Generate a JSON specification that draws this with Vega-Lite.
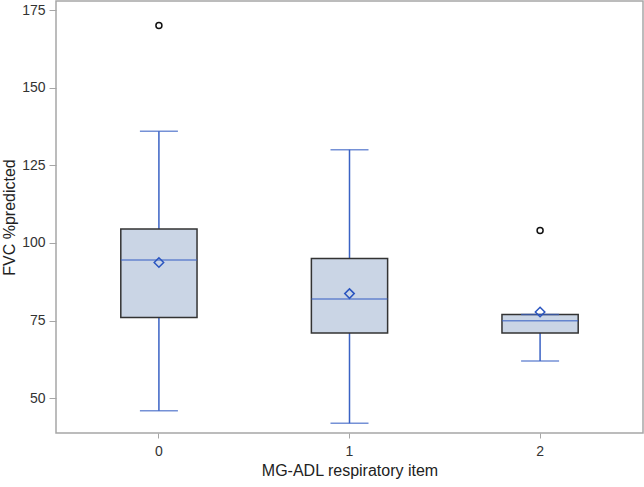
{
  "$schema": "https://vega.github.io/schema/vega-lite/v6.json",
  "width": 587,
  "height": 432,
  "autosize": {"type": "none"},
  "padding": {"left": 56, "top": 1, "right": 1, "bottom": 54},
  "background": "white",
  "config": {
    "view": {"stroke": "#A6A6A6", "strokeWidth": 1.5},
    "font": "Liberation Sans",
    "axis": {
      "domain": false,
      "grid": false,
      "labelFont": "Liberation Sans",
      "titleFont": "Liberation Sans",
      "labelColor": "#333333",
      "titleColor": "#222222",
      "labelFontSize": 14,
      "titleFontSize": 16,
      "titleFontWeight": "normal",
      "tickColor": "#A6A6A6"
    }
  },
  "datasets": {
    "boxes": [
      {"item": "0", "lo": 46, "q1": 76, "med": 94.5, "q3": 104.5, "hi": 136, "mean": 93.7},
      {"item": "1", "lo": 42, "q1": 71, "med": 82, "q3": 95, "hi": 130, "mean": 83.7},
      {"item": "2", "lo": 62, "q1": 71, "med": 75, "q3": 77, "hi": 77, "mean": 77.8}
    ],
    "outliers": [
      {"item": "0", "fvc": 170},
      {"item": "2", "fvc": 104}
    ]
  },
  "encoding": {
    "x": {
      "field": "item",
      "type": "ordinal",
      "scale": {"type": "band", "domain": ["0", "1", "2"], "paddingInner": 0.6, "paddingOuter": 0.34},
      "axis": {"title": "MG-ADL respiratory item", "labelAngle": 0, "tickSize": 5, "labelPadding": 6, "titlePadding": 4}
    }
  },
  "layer": [
    {
      "data": {"name": "boxes"},
      "mark": {"type": "rule", "color": "#3A62C4", "strokeWidth": 1.5},
      "encoding": {
        "y": {
          "field": "lo",
          "type": "quantitative",
          "scale": {"domain": [38.83, 177.9], "nice": false, "zero": false},
          "axis": {"title": "FVC %predicted", "values": [50, 75, 100, 125, 150, 175], "tickSize": 7, "labelPadding": 4, "titlePadding": 4}
        },
        "y2": {"field": "hi"}
      }
    },
    {
      "data": {"name": "boxes"},
      "mark": {"type": "bar", "fill": "#CAD5E5", "stroke": "#333333", "strokeWidth": 1.5},
      "encoding": {
        "y": {"field": "q1", "type": "quantitative"},
        "y2": {"field": "q3"}
      }
    },
    {
      "data": {"name": "boxes"},
      "mark": {"type": "tick", "color": "#3A62C4", "thickness": 1.5, "size": 76},
      "encoding": {"y": {"field": "med", "type": "quantitative"}}
    },
    {
      "data": {"name": "boxes"},
      "mark": {"type": "tick", "color": "#3A62C4", "thickness": 1.5, "size": 38},
      "encoding": {"y": {"field": "lo", "type": "quantitative"}}
    },
    {
      "data": {"name": "boxes"},
      "mark": {"type": "tick", "color": "#3A62C4", "thickness": 1.5, "size": 38},
      "encoding": {"y": {"field": "hi", "type": "quantitative"}}
    },
    {
      "data": {"name": "boxes"},
      "mark": {"type": "point", "shape": "diamond", "filled": false, "color": "#2A55C0", "size": 90, "strokeWidth": 1.5, "opacity": 1},
      "encoding": {"y": {"field": "mean", "type": "quantitative"}}
    },
    {
      "data": {"name": "outliers"},
      "mark": {"type": "point", "shape": "circle", "filled": false, "color": "#111111", "size": 36, "strokeWidth": 1.5, "opacity": 1},
      "encoding": {"y": {"field": "fvc", "type": "quantitative"}}
    }
  ]
}
